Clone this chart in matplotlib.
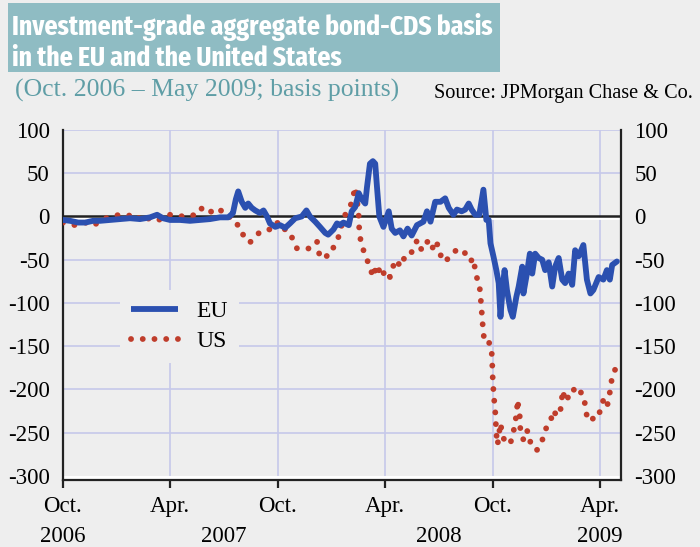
import os
import matplotlib
matplotlib.use('Agg')
import matplotlib.pyplot as plt
import matplotlib.transforms as mtransforms
import matplotlib.font_manager as fm
from matplotlib.patches import Rectangle
from matplotlib.lines import Line2D
import pandas as pd

eu_dates = ['2006-10-01','2006-10-13','2006-10-27','2006-11-08','2006-11-21','2006-12-03','2006-12-20',
            '2007-01-06','2007-01-23','2007-02-09','2007-02-26','2007-03-10','2007-03-20','2007-04-01',
            '2007-04-18','2007-05-05','2007-05-22','2007-06-08','2007-06-25','2007-07-09','2007-07-14',
            '2007-07-17','2007-07-22','2007-07-26','2007-08-01','2007-08-07','2007-08-12','2007-08-18',
            '2007-08-24','2007-09-01','2007-09-07','2007-09-13','2007-09-18','2007-09-27','2007-10-05',
            '2007-10-14','2007-10-22','2007-10-31','2007-11-11','2007-11-19','2007-11-25','2007-12-04',
            '2007-12-12','2007-12-21','2007-12-26','2008-01-04','2008-01-10','2008-01-15','2008-01-21',
            '2008-01-30','2008-02-04','2008-02-10','2008-02-16','2008-02-21','2008-02-27','2008-03-01',
            '2008-03-06','2008-03-11','2008-03-15','2008-03-18','2008-03-22','2008-03-29','2008-04-07',
            '2008-04-12','2008-04-18','2008-04-26','2008-05-02','2008-05-09','2008-05-16','2008-05-25',
            '2008-06-05','2008-06-11','2008-06-17','2008-06-25','2008-07-04','2008-07-12','2008-07-18',
            '2008-07-26','2008-08-01','2008-08-09','2008-08-15','2008-08-21','2008-08-26','2008-09-01',
            '2008-09-08','2008-09-15','2008-09-20','2008-09-24','2008-09-27','2008-10-02','2008-10-07',
            '2008-10-11','2008-10-14','2008-10-18','2008-10-21','2008-10-25','2008-10-31','2008-11-04',
            '2008-11-10','2008-11-14','2008-11-20','2008-11-22','2008-11-28','2008-12-03','2008-12-07',
            '2008-12-12','2008-12-18','2008-12-24','2008-12-29','2009-01-04','2009-01-10','2009-01-15',
            '2009-01-21','2009-01-27','2009-02-01','2009-02-07','2009-02-13','2009-02-18','2009-02-24',
            '2009-03-04','2009-03-10','2009-03-16','2009-03-21','2009-03-30','2009-04-07','2009-04-13',
            '2009-04-18','2009-04-22','2009-04-30']
eu_values = [-4, -5, -7, -7, -5, -5, -4,
             -3, -2, -3, -1, 2, -2, -4,
             -4, -5, -4, -3, -1, -1, 2,
             4, 20, 29, 17, 10, 15, 10,
             7, 4, 7, 0, -8, -12, -10,
             -13, -8, -2, 0, 7, 0, -6,
             -12, -19, -21, -15, -8, -10, -7,
             -10, 6, 11, 27, 20, 15, 34,
             61, 64, 61, 34, 0, -12, 6,
             -14, -19, -16, -23, -14, -22, -10,
             -6, 6, -6, 17, 17, 21, 10,
             2, 8, 6, 8, 15, 8, 2,
             2, 31, -4, -4, -31, -46, -62,
             -77, -116, -81, -62, -85, -108, -116,
             -93, -81, -58, -89, -66, -43, -66,
             -43, -48, -50, -62, -53, -81, -58,
             -48, -73, -77, -66, -79, -39, -46,
             -33, -73, -89, -85, -70, -73, -62,
             -73, -56, -52]

us_dates = ['2006-10-01','2006-10-13','2006-10-21','2006-11-08','2006-11-21','2006-12-03','2006-12-20',
            '2007-01-06','2007-01-23','2007-02-04','2007-02-09','2007-02-26','2007-03-10','2007-03-24',
            '2007-04-01','2007-04-18','2007-05-05','2007-05-15','2007-05-27','2007-06-03','2007-06-13',
            '2007-06-20','2007-06-29','2007-07-07','2007-07-15','2007-07-24','2007-07-29','2007-08-05',
            '2007-08-12','2007-08-15','2007-08-24','2007-09-01','2007-09-13','2007-09-24','2007-10-02',
            '2007-10-11','2007-10-22','2007-10-28','2007-11-03','2007-11-14','2007-11-25','2007-12-07',
            '2007-12-12','2007-12-21','2007-12-29','2008-01-07','2008-01-13','2008-01-18','2008-01-24',
            '2008-01-30','2008-02-04','2008-02-07','2008-02-10','2008-02-13','2008-02-16','2008-02-17',
            '2008-02-21','2008-02-24','2008-03-01','2008-03-06','2008-03-11','2008-03-18','2008-03-26',
            '2008-04-01','2008-04-09','2008-04-14','2008-04-21','2008-04-26','2008-05-05','2008-05-14',
            '2008-05-19','2008-05-26','2008-06-02','2008-06-08','2008-06-17','2008-06-22','2008-06-28',
            '2008-07-04','2008-07-12','2008-07-15','2008-07-23','2008-08-04','2008-08-18','2008-08-24',
            '2008-08-29','2008-09-01','2008-09-04','2008-09-08','2008-09-11','2008-09-14','2008-09-16',
            '2008-09-24','2008-09-26','2008-09-29','2008-09-30','2008-10-01','2008-10-03','2008-10-05',
            '2008-10-06','2008-10-07','2008-10-09','2008-10-14','2008-10-17','2008-10-22','2008-10-31',
            '2008-11-05','2008-11-08','2008-11-11','2008-11-12','2008-11-16','2008-11-17','2008-11-22',
            '2008-11-27','2008-12-03','2008-12-04','2008-12-09','2008-12-15','2008-12-21','2008-12-26',
            '2009-01-01','2009-01-07','2009-01-12','2009-01-18','2009-01-24','2009-01-28','2009-02-01',
            '2009-02-07','2009-02-13','2009-02-17','2009-02-21','2009-02-27','2009-03-04','2009-03-07',
            '2009-03-10','2009-03-16','2009-03-21','2009-03-27','2009-04-02','2009-04-07','2009-04-13',
            '2009-04-16','2009-04-19','2009-04-22','2009-04-27']
us_values = [-7, -8, -10, -7, -11, -5, 0,
             2, 1, 2, -5, -2, -5, 0,
             2, 0, 2, 1, 11, 7, 5,
             9, 6, 5, -5, -8, -18, -22,
             -25, -30, -23, -18, -15, -15, -6,
             -14, -18, -29, -37, -37, -37, -29,
             -48, -46, -45, -31, -23, -10, 2,
             11, 15, 25, 34, 20, 0, -18,
             -35, -39, -50, -58, -70, -56, -70,
             -62, -70, -58, -50, -58, -46, -45,
             -35, -27, -39, -31, -27, -39, -31,
             -45, -43, -50, -43, -37, -44, -52,
             -48, -62, -71, -77, -100, -127, -141,
             -141, -154, -156, -170, -190, -210, -224,
             -237, -251, -264, -239, -251, -262, -262,
             -249, -239, -224, -212, -232, -249, -258,
             -247, -251, -264, -266, -270, -264, -255,
             -242, -237, -224, -231, -224, -201, -214,
             -208, -208, -197, -201, -203, -206, -218,
             -231, -237, -233, -234, -224, -212, -220,
             -212, -199, -185, -177]

y_ticks = [100, 50, 0, -50, -100, -150, -200, -250, -300]
x_tick_dates = ['2006-10-01', '2007-04-01', '2007-10-01', '2008-04-01', '2008-10-01', '2009-04-01']
x_tick_labels = ['Oct.', 'Apr.', 'Oct.', 'Apr.', 'Oct.', 'Apr.']
year_labels = ['2006', '2007', '2008', '2009']
year_dates = ['2006-10-01', '2007-07-01', '2008-07-01', '2009-04-01']

title_lines = ['Investment-grade aggregate bond-CDS basis', 'in the EU and the United States']
subtitle = '(Oct. 2006 \u2013 May 2009; basis points)'
source = 'Source: JPMorgan Chase & Co.'

BG = '#eeeeee'
GRID = '#c6c8ea'
EU_C = '#2b50b0'
US_C = '#bf3d2b'
TEAL = '#8fbcc3'
SERIF = 'Liberation Serif'

plt.rcParams['axes.unicode_minus'] = False
W, H = 700, 547
fig = plt.figure(figsize=(7.0, 5.47), dpi=100, facecolor=BG)


def fx(px):
    return px / W


def fy(py):
    return 1 - py / H


# pick a condensed bold sans for the banner title if one is installed
title_prop = None
try:
    files = sorted(set(fm.findSystemFonts() + [f.fname for f in fm.fontManager.ttflist]))
    cands = []
    for f in files:
        b = os.path.basename(f).lower()
        if ('cond' in b or 'narrow' in b) and 'bold' in b and 'italic' not in b \
                and 'semibold' not in b and 'extrabold' not in b and 'oblique' not in b:
            score = 0 if 'extracond' in b else (1 if 'semicond' not in b else 2)
            cands.append((score, f))
    if cands:
        cands.sort()
        title_prop = fm.FontProperties(fname=cands[0][1])
except Exception:
    title_prop = None
if title_prop is None:
    title_prop = fm.FontProperties(family=['Noto Sans CJK SC', 'DejaVu Sans'], weight='bold')

# Title banner
fig.patches.append(Rectangle((fx(8), fy(72)), fx(500) - fx(8), fy(3) - fy(72),
                             transform=fig.transFigure, facecolor=TEAL, edgecolor='none', zorder=0))
t1 = fig.text(fx(12), fy(35), title_lines[0], color='white', fontproperties=title_prop,
              va='baseline', ha='left')
t2 = fig.text(fx(12), fy(66), title_lines[1], color='white', fontproperties=title_prop,
              va='baseline', ha='left')
t1.set_fontsize(24)
t2.set_fontsize(24)
renderer = fig.canvas.get_renderer()
w1 = t1.get_window_extent(renderer).width
size = min(24 * 480.0 / w1, 25)
t1.set_fontsize(size)
t2.set_fontsize(size)

fig.text(fx(15), fy(97), subtitle, color='#5f9ea6', fontsize=18.5, family=SERIF,
         va='baseline', ha='left')
fig.text(fx(693), fy(98), source, color='black', fontsize=14.6, family=SERIF,
         va='baseline', ha='right')

ax_left, ax_right, ax_top, ax_bot = 63, 621, 130, 480.3
ax = fig.add_axes([fx(ax_left), fy(ax_bot), fx(ax_right) - fx(ax_left), fy(ax_top) - fy(ax_bot)])
ax.set_facecolor(BG)

eu_x = pd.to_datetime(eu_dates)
us_x = pd.to_datetime(us_dates)
xt = pd.to_datetime(x_tick_dates)

# grid
for v in y_ticks:
    if v in (0, -300):
        continue
    ax.axhline(v, color=GRID, lw=1.2, zorder=1)
for d in xt[1:]:
    ax.axvline(d, color=GRID, lw=1.2, zorder=1)
ax.axhline(-301.3, color='white', lw=2.2, zorder=1.5)
ax.axhline(-2.0, color='white', lw=2.0, zorder=1.5)
ax.axhline(0.3, color='#222222', lw=1.8, zorder=1.6)

ax.plot(us_x, us_values, color=US_C, lw=4.2, linestyle=(0, (0.01, 2.0)),
        dash_capstyle='round', zorder=3)
ax.plot(eu_x, eu_values, color=EU_C, lw=4.2, solid_joinstyle='round',
        solid_capstyle='round', zorder=4)

ax.set_ylim(-305, 100)
ax.set_xlim(pd.Timestamp('2006-10-01'), pd.Timestamp('2009-05-07'))

ax.set_yticks(y_ticks)
ax.set_yticklabels([str(v) for v in y_ticks])
ax.tick_params(axis='y', length=0, labelsize=16.5, pad=9.5, labelright=True)
for t in ax.yaxis.get_major_ticks():
    t.label1.set_fontfamily(SERIF)
    t.label2.set_fontfamily(SERIF)
    t.label2.set_horizontalalignment('left')

ax.set_xticks(xt)
ax.set_xticklabels(x_tick_labels, fontfamily=SERIF, fontsize=16.5)
ax.tick_params(axis='x', length=6, width=1.6, direction='out', pad=5.5, color='#222222')

for side in ['left', 'right', 'bottom']:
    ax.spines[side].set_color('#222222')
    ax.spines[side].set_linewidth(1.6)
ax.spines['top'].set_visible(False)

trans = mtransforms.blended_transform_factory(ax.transData, fig.transFigure)
for lab, d in zip(year_labels, pd.to_datetime(year_dates)):
    ax.text(d, fy(542), lab, transform=trans, ha='center', va='baseline',
            fontsize=16.5, family=SERIF, clip_on=False)

handles = [Line2D([], [], color=EU_C, lw=4.2, solid_capstyle='butt'),
           Line2D([], [], color=US_C, lw=4.2, linestyle=(0, (0.01, 2.0)), dash_capstyle='round')]
leg = ax.legend(handles, ['EU', 'US'], loc='upper left', bbox_to_anchor=(fx(120), fy(290)),
                bbox_transform=fig.transFigure, frameon=True, facecolor=BG, edgecolor='none',
                framealpha=1, fancybox=False, borderaxespad=0, borderpad=0.45,
                handlelength=2.0, handletextpad=0.8, labelspacing=0.35,
                prop={'family': SERIF, 'size': 17})
leg.set_zorder(5)

fig.savefig('out.png', dpi=100, facecolor=BG)
